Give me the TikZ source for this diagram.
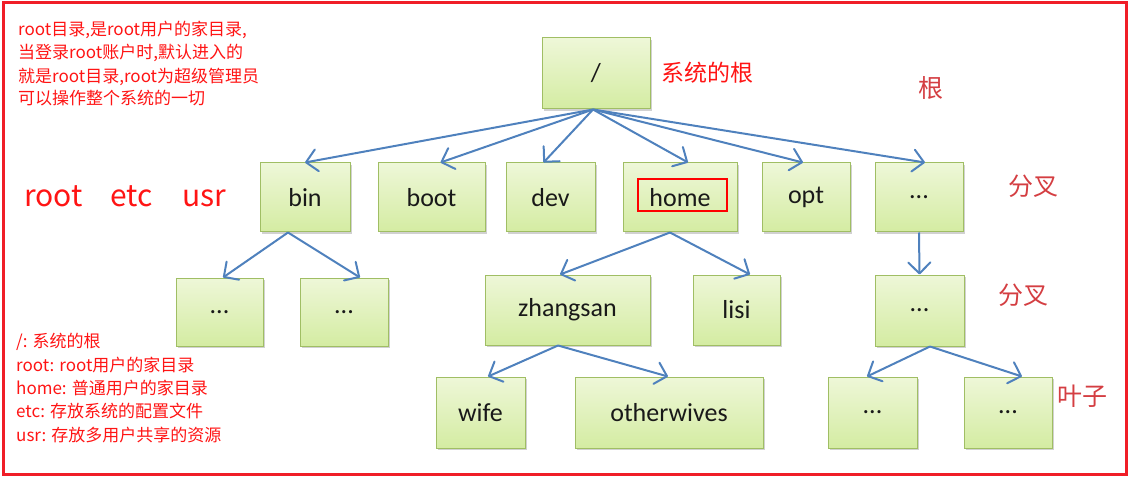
\documentclass[tikz,border=0pt]{standalone}
\usepackage{fontspec}
\setmainfont{Carlito}
\newfontfamily\cjk{Noto Sans CJK SC}
\usetikzlibrary{arrows.meta,shadows}
\definecolor{boxtop}{RGB}{238,247,216}
\definecolor{boxbot}{RGB}{212,236,162}
\definecolor{boxline}{RGB}{160,190,100}
\definecolor{arrblue}{RGB}{79,129,189}
\definecolor{annred}{RGB}{255,20,20}
\definecolor{lvlred}{RGB}{212,62,66}
\definecolor{frame}{RGB}{240,30,40}
\tikzset{
  dirbox/.style={rectangle, draw=boxline, line width=1pt, top color=boxtop, bottom color=boxbot,
    inner sep=0pt, font=\fontsize{26}{30}\selectfont, text=black!90,
    drop shadow={shadow xshift=1.5pt, shadow yshift=-2pt, opacity=0.3, fill=black!60}},
  arr/.style={draw=arrblue, line width=2pt, -{Straight Barb[length=11pt,width=22pt,line width=2pt,round]}},
  ann/.style={anchor=base west, inner sep=0pt, text=annred, font=\cjk\fontsize{17}{20}\selectfont},
  lvl/.style={inner sep=0pt, text=lvlred, font=\cjk\fontsize{25}{28}\selectfont}
}
\begin{document}
\begin{tikzpicture}[x=1pt,y=-1pt]
\useasboundingbox (0,0) rectangle (1130,481);
\draw[frame, line width=3pt] (3,3) rectangle (1126,474);

% boxes
\node[dirbox, minimum width=108pt, minimum height=71pt] (root) at (596,73.5) {/};
\node[dirbox, minimum width=90pt, minimum height=69pt] (bin) at (305,197.5) {bin};
\node[dirbox, minimum width=107pt, minimum height=69pt] (boot) at (431.5,197.5) {boot};
\node[dirbox, minimum width=89pt, minimum height=69pt] (dev) at (550.5,197.5) {dev};
\node[dirbox, minimum width=114pt, minimum height=69pt] (home) at (680,197.5) {home};
\node[dirbox, minimum width=88pt, minimum height=69pt] (opt) at (806,197.5) {opt};
\node[dirbox, minimum width=88pt, minimum height=69pt] (dots) at (919,197.5) {...};
\node[dirbox, minimum width=87pt, minimum height=68pt] (binA) at (219.5,312) {...};
\node[dirbox, minimum width=88pt, minimum height=68pt] (binB) at (344,312) {...};
\node[dirbox, minimum width=165pt, minimum height=70pt] (zhangsan) at (567.5,310) {zhangsan};
\node[dirbox, minimum width=87pt, minimum height=70pt] (lisi) at (736.5,310) {lisi};
\node[dirbox, minimum width=89pt, minimum height=71pt] (dotsMid) at (919.5,310.5) {...};
\node[dirbox, minimum width=89pt, minimum height=71pt] (wife) at (480.5,412.5) {wife};
\node[dirbox, minimum width=188pt, minimum height=71pt] (otherwives) at (669,412.5) {otherwives};
\node[dirbox, minimum width=89pt, minimum height=71pt] (leafA) at (872.5,412.5) {...};
\node[dirbox, minimum width=88pt, minimum height=71pt] (leafB) at (1008,412.5) {...};

% highlight around home
\node[draw=red, line width=1.5pt, minimum width=89pt, minimum height=32pt, inner sep=0pt] (homeHL) at (682.5,195) {};

% arrows
\draw[arr] ([xshift=-3pt]root.south) -- (bin.north);
\draw[arr] ([xshift=-3pt]root.south) -- ([xshift=9pt]boot.north);
\draw[arr] ([xshift=-3pt]root.south) -- ([xshift=-7pt]dev.north);
\draw[arr] ([xshift=-3pt]root.south) -- ([xshift=8pt]home.north);
\draw[arr] ([xshift=-3pt]root.south) -- ([xshift=-3pt]opt.north);
\draw[arr] ([xshift=-3pt]root.south) -- ([xshift=6pt]dots.north);
\draw[arr] ([xshift=-17pt]bin.south) -- ([xshift=3.5pt]binA.north);
\draw[arr] ([xshift=-17pt]bin.south) -- ([xshift=16pt]binB.north);
\draw[arr] ([xshift=-10pt]home.south) -- ([xshift=-7.5pt]zhangsan.north);
\draw[arr] ([xshift=-10pt]home.south) -- ([xshift=13.5pt]lisi.north);
\draw[arr] ([xshift=-9.5pt]zhangsan.south) -- ([xshift=7.5pt]wife.north);
\draw[arr] ([xshift=-9.5pt]zhangsan.south) -- ([xshift=-1pt]otherwives.north);
\draw[arr] (dots.south) -- (dotsMid.north);
\draw[arr] ([xshift=10.5pt]dotsMid.south) -- ([xshift=-5.5pt]leafA.north);
\draw[arr] ([xshift=10.5pt]dotsMid.south) -- ([xshift=14pt]leafB.north);

% level labels
\node[inner sep=0pt, anchor=west, text=annred, font=\cjk\fontsize{23}{26}\selectfont] (rootlbl) at (661,73) {系统的根};
\node[lvl] (gen) at (931,88) {根};
\node[lvl] (fc1) at (1033,186) {分叉};
\node[lvl] (fc2) at (1023,295) {分叉};
\node[lvl] (yz) at (1082,396) {叶子};

% big red words
\node[anchor=base west, inner sep=0pt, text=annred, font=\cjk\fontsize{30}{34}\selectfont] (w1) at (24,207) {root};
\node[anchor=base west, inner sep=0pt, text=annred, font=\cjk\fontsize{30}{34}\selectfont] (w2) at (110,207) {etc};
\node[anchor=base west, inner sep=0pt, text=annred, font=\cjk\fontsize{30}{34}\selectfont] (w3) at (182,207) {usr};

% top-left note
\node[ann] (t1) at (18,36) {root目录,是root用户的家目录,};
\node[ann] (t2) at (18,59) {当登录root账户时,默认进入的};
\node[ann] (t3) at (18,82.5) {就是root目录,root为超级管理员};
\node[ann] (t4) at (18,105) {可以操作整个系统的一切};

% bottom-left note
\node[ann] (b1) at (16,347) {/: 系统的根};
\node[ann] (b2) at (16,371) {root: root用户的家目录};
\node[ann] (b3) at (16,394.5) {home: 普通用户的家目录};
\node[ann] (b4) at (16,417) {etc: 存放系统的配置文件};
\node[ann] (b5) at (16,441) {usr: 存放多用户共享的资源};
\end{tikzpicture}
\end{document}
